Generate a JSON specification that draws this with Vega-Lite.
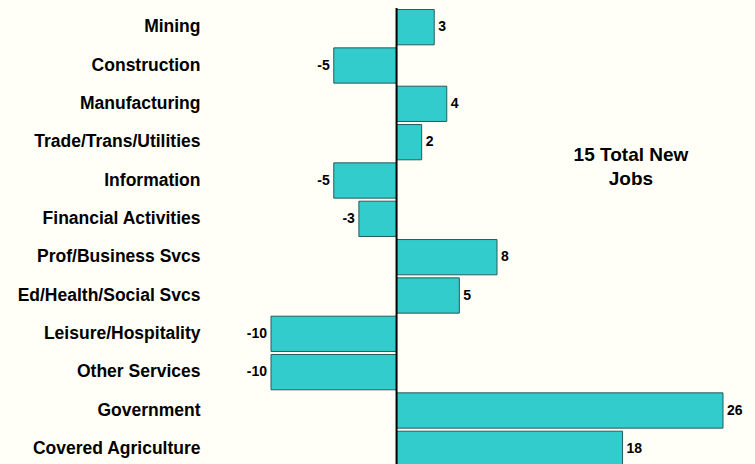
{
  "$schema": "https://vega.github.io/schema/vega-lite/v6.json",
  "autosize": "none",
  "padding": {"left": 271, "top": 8, "right": 32, "bottom": 0},
  "width": 452,
  "height": 460,
  "background": "#fffff8",
  "config": {"view": {"stroke": null}, "font": "Liberation Sans"},
  "data": {"values": [
    {"industry": "Mining", "jobs": 3},
    {"industry": "Construction", "jobs": -5},
    {"industry": "Manufacturing", "jobs": 4},
    {"industry": "Trade/Trans/Utilities", "jobs": 2},
    {"industry": "Information", "jobs": -5},
    {"industry": "Financial Activities", "jobs": -3},
    {"industry": "Prof/Business Svcs", "jobs": 8},
    {"industry": "Ed/Health/Social Svcs", "jobs": 5},
    {"industry": "Leisure/Hospitality", "jobs": -10},
    {"industry": "Other Services", "jobs": -10},
    {"industry": "Government", "jobs": 26},
    {"industry": "Covered Agriculture", "jobs": 18}
  ]},
  "encoding": {
    "y": {"field": "industry", "type": "nominal", "sort": null,
      "scale": {"paddingInner": 0.08, "paddingOuter": 0.04},
      "axis": {"title": null, "ticks": false, "domain": false, "labelPadding": 71, "labelLimit": 300,
        "labelFont": "Liberation Sans", "labelFontWeight": "bold", "labelFontSize": 17.5, "labelColor": "#000000"}},
    "x": {"field": "jobs", "type": "quantitative",
      "scale": {"domain": [-10, 26], "nice": false, "zero": false},
      "axis": null}
  },
  "layer": [
    {"mark": {"type": "bar", "fill": "#33cccc", "stroke": "#2a5a5a", "strokeWidth": 1}},
    {"transform": [{"filter": "datum.industry === 'Mining'"}],
      "mark": {"type": "rule", "stroke": "#000000", "strokeWidth": 2},
      "encoding": {"x": {"datum": 0}, "y": null}},
    {"transform": [{"filter": "datum.jobs >= 0"}],
      "mark": {"type": "text", "align": "left", "baseline": "middle", "dx": 4, "fontWeight": "bold", "fontSize": 14, "fill": "#000000"},
      "encoding": {"text": {"field": "jobs", "type": "nominal"}}},
    {"transform": [{"filter": "datum.jobs < 0"}],
      "mark": {"type": "text", "align": "right", "baseline": "middle", "dx": -4, "fontWeight": "bold", "fontSize": 14, "fill": "#000000"},
      "encoding": {"text": {"field": "jobs", "type": "nominal"}}},
    {"transform": [{"filter": "datum.industry === 'Mining'"}],
      "mark": {"type": "text", "align": "center", "baseline": "alphabetic", "dy": -20, "lineHeight": 24, "fontWeight": "bold", "fontSize": 19, "fill": "#000000"},
      "encoding": {"x": {"datum": 18.67}, "y": {"datum": "Information"}, "text": {"value": ["15 Total New", "Jobs"]}}}
  ]
}
